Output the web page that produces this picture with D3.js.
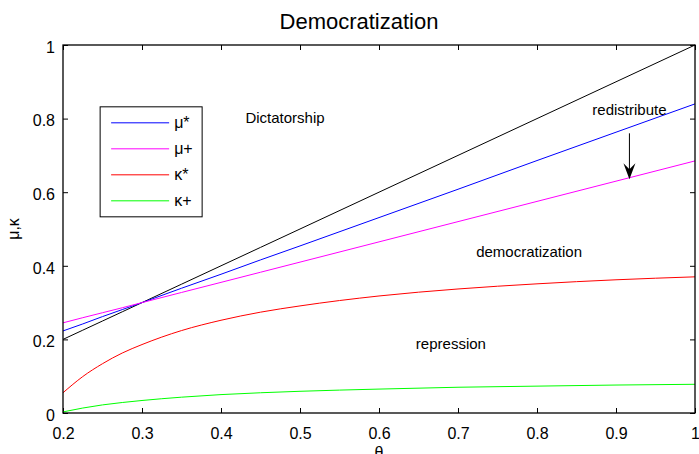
<!DOCTYPE html>
<html>
<head>
<meta charset="utf-8">
<script src="https://cdn.jsdelivr.net/npm/d3@7"></script>
<style>
  body { margin: 0; background: #fff; }
  svg { display: block; font-family: "Liberation Sans", Arial, sans-serif; }
</style>
</head>
<body>
<div id="viz"></div>
<script>
(() => {
  // data
  let theta = [0.2, 0.225, 0.25, 0.275, 0.3, 0.35, 0.4, 0.45, 0.5, 0.6, 0.7, 0.8, 0.9, 1.0];
  let diag = [0.2, 0.225, 0.25, 0.275, 0.3, 0.35, 0.4, 0.45, 0.5, 0.6, 0.7, 0.8, 0.9, 1.0];
  let muStar = [0.223, 0.242, 0.262, 0.281, 0.300, 0.339, 0.377, 0.416, 0.454, 0.531, 0.608, 0.686, 0.763, 0.840];
  let muPlus = [0.245, 0.259, 0.2725, 0.286, 0.300, 0.3275, 0.355, 0.3825, 0.410, 0.465, 0.520, 0.575, 0.630, 0.685];
  let kappaStar = [0.055, 0.099, 0.134, 0.163, 0.186, 0.224, 0.252, 0.274, 0.291, 0.318, 0.337, 0.351, 0.362, 0.370];
  let kappaPlus = [0.003, 0.0135, 0.022, 0.0285, 0.034, 0.043, 0.050, 0.055, 0.059, 0.065, 0.070, 0.073, 0.076, 0.078];

  let xTicks = [0.2, 0.3, 0.4, 0.5, 0.6, 0.7, 0.8, 0.9, 1];
  let yTicks = [0, 0.2, 0.4, 0.6, 0.8, 1];

  let series = [
    { name: 'diag', values: diag, color: '#000000' },
    { name: 'μ*', values: muStar, color: '#0000ff' },
    { name: 'μ+', values: muPlus, color: '#ff00ff' },
    { name: 'κ*', values: kappaStar, color: '#ff0000' },
    { name: 'κ+', values: kappaPlus, color: '#00ff00' }
  ];

  let regionLabels = [
    { text: 'Dictatorship', t: 0.481, v: 0.788 },
    { text: 'democratization', t: 0.790, v: 0.424 },
    { text: 'repression', t: 0.691, v: 0.174 }
  ];
  let arrow = { t: 0.917, from: 0.76, to: 0.635, label: 'redistribute', labelV: 0.81 };

  let margin = { top: 45, right: 4, bottom: 41, left: 63 },
    width = 699 - margin.left - margin.right,
    height = 454 - margin.top - margin.bottom;

  let svg = d3.select('#viz')
    .append('svg')
    .attr('width', 699)
    .attr('height', 454);

  let g = svg.append('g')
    .attr('transform', `translate(${margin.left}, ${margin.top})`);

  let x = d3.scaleLinear().domain([0.2, 1]).range([0, width]);
  let y = d3.scaleLinear().domain([0, 1]).range([height, 0]);

  let fmt = d => (d === 0 || d === 1) ? d3.format('d')(d) : d3.format('.1f')(d);

  // axes, ticks pointing inward
  let xAxis = g.append('g')
    .attr('transform', `translate(0,${height})`)
    .call(d3.axisBottom(x).tickValues(xTicks).tickFormat(fmt)
      .tickSizeInner(-5).tickSizeOuter(0).tickPadding(15));

  let yAxis = g.append('g')
    .call(d3.axisLeft(y).tickValues(yTicks).tickFormat(fmt)
      .tickSizeInner(-5).tickSizeOuter(0).tickPadding(8));

  let topAxis = g.append('g')
    .call(d3.axisTop(x).tickValues(xTicks).tickFormat('')
      .tickSizeInner(-5).tickSizeOuter(0));

  let rightAxis = g.append('g')
    .attr('transform', `translate(${width},0)`)
    .call(d3.axisRight(y).tickValues(yTicks).tickFormat('')
      .tickSizeInner(-5).tickSizeOuter(0));

  [xAxis, yAxis, topAxis, rightAxis].forEach(a => {
    a.select('.domain').remove();
    a.selectAll('line').attr('stroke', '#000');
    a.selectAll('text')
      .attr('fill', '#000')
      .style('font-size', '16px')
      .style('font-family', '"Liberation Sans", Arial, sans-serif');
  });
  yAxis.selectAll('text').attr('dy', '0.45em');

  // curves
  let line = d3.line()
    .x((d, i) => x(theta[i]))
    .y(d => y(d))
    .curve(d3.curveMonotoneX);

  g.selectAll('.series')
    .data(series)
    .join('path')
    .attr('class', 'series')
    .attr('d', d => line(d.values))
    .attr('fill', 'none')
    .attr('stroke', d => d.color)
    .attr('stroke-width', 1);

  // frame
  g.append('rect')
    .attr('width', width)
    .attr('height', height)
    .attr('fill', 'none')
    .attr('stroke', '#000')
    .attr('stroke-width', 1.3);

  // region labels
  g.selectAll('.region')
    .data(regionLabels)
    .join('text')
    .attr('class', 'region')
    .attr('x', d => x(d.t))
    .attr('y', d => y(d.v))
    .attr('text-anchor', 'middle')
    .style('font-size', '15px')
    .text(d => d.text);

  // redistribute arrow
  g.append('text')
    .attr('x', x(arrow.t))
    .attr('y', y(arrow.labelV))
    .attr('text-anchor', 'middle')
    .style('font-size', '15px')
    .text(arrow.label);

  g.append('line')
    .attr('x1', x(arrow.t)).attr('x2', x(arrow.t))
    .attr('y1', y(arrow.from)).attr('y2', y(arrow.to) - 8)
    .attr('stroke', '#000')
    .attr('stroke-width', 1);

  g.append('path')
    .attr('transform', `translate(${x(arrow.t)},${y(arrow.to)})`)
    .attr('d', 'M0,0 L-6,-16 L0,-10 L6,-16 Z')
    .attr('fill', '#000');

  // legend
  let legend = g.append('g')
    .attr('transform', `translate(${x(0.247)},${y(0.832)})`);

  legend.append('rect')
    .attr('width', 102)
    .attr('height', 110)
    .attr('fill', '#fff')
    .attr('stroke', '#000')
    .attr('stroke-width', 1);

  let items = legend.selectAll('.item')
    .data(series.slice(1))
    .join('g')
    .attr('class', 'item')
    .attr('transform', (d, i) => `translate(0,${16 + i * 26})`);

  items.append('line')
    .attr('x1', 11).attr('x2', 69)
    .attr('stroke', d => d.color)
    .attr('stroke-width', 1);

  items.append('text')
    .attr('x', 74)
    .attr('dy', '0.35em')
    .style('font-size', '16px')
    .text(d => d.name);

  // titles
  svg.append('text')
    .attr('x', 359)
    .attr('y', 29)
    .attr('text-anchor', 'middle')
    .style('font-size', '22px')
    .text('Democratization');

  svg.append('text')
    .attr('x', margin.left + width / 2)
    .attr('y', 458)
    .attr('text-anchor', 'middle')
    .style('font-size', '16px')
    .text('θ');

  svg.append('text')
    .attr('transform', `translate(19,${margin.top + height / 2}) rotate(-90)`)
    .attr('text-anchor', 'middle')
    .style('font-size', '16px')
    .text('μ,κ');
})();
</script>
</body>
</html>
